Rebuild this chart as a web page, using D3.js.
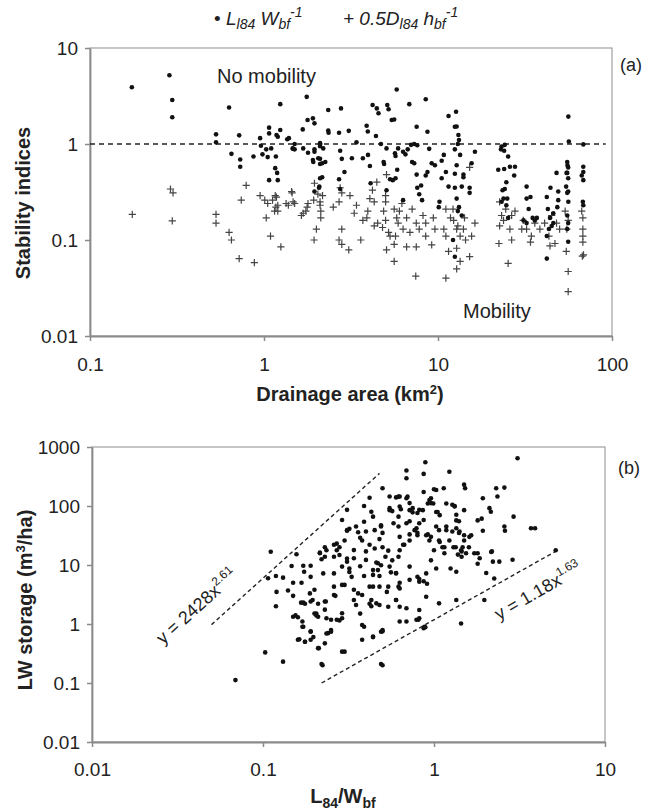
<!DOCTYPE html>
<html>
<head>
<meta charset="utf-8">
<script src="https://cdn.jsdelivr.net/npm/d3@7"></script>
<style>
  body { margin: 0; background: #fff; }
  svg text { font-family: "Liberation Sans", Arial, sans-serif; fill: #222; }
</style>
</head>
<body>
<svg id="chart" width="661" height="812"></svg>
<script>
"use strict";

// (a) L84/Wbf index vs drainage area (km2)
const lengthIndex = [
  [0.174,3.9],[0.286,5.2],[0.297,2.87],[0.297,1.9],[0.63,2.4],[0.53,1.26],[0.53,1.04],[0.72,1.23],
  [0.65,0.79],[0.73,0.69],[0.73,0.58],[0.87,0.74],[0.95,1.15],[0.96,0.96],[0.98,0.78],[1.05,0.73],
  [1.07,0.42],[1.07,1.48],[1.07,1.29],[1.24,2.6],[1.36,1.12],[1.47,0.89],[1.24,1.4],[1.2,1.19],
  [1.17,0.74],[1.16,0.56],[1.19,0.5],[1.2,0.42],[1.1,0.9],[1.03,0.88],[1.76,3.1],[1.78,1.78],
  [1.67,1.42],[1.68,0.9],[1.79,0.81],[1.91,1.85],[1.95,1.64],[1.95,0.83],[1.91,0.68],[2.05,0.71],
  [2.1,1.02],[2.1,0.95],[2.16,0.63],[2.1,0.44],[2.08,0.36],[1.95,0.32],[2.34,2.26],[2.34,1.38],
  [2.77,2.35],[5.79,3.7],[4.21,2.55],[4.45,2.35],[4.55,2.09],[5.11,2.55],[5.2,2.3],[5.42,1.78],
  [5.6,1.8],[6.84,2.6],[8.5,2.92],[7.54,1.51],[8.7,1.34],[2.35,1.31],[2.7,1.31],[3.07,1.37],
  [3.89,1.55],[3.95,1.35],[4.4,1.21],[1.39,1.15],[1.46,0.9],[1.5,0.88],[1.95,0.88],[1.92,0.65],
  [2.1,0.99],[2.1,0.7],[2.19,0.9],[2.25,0.65],[2.1,0.62],[2.16,0.45],[2.07,0.35],[2.74,0.85],
  [2.8,0.7],[2.9,0.51],[2.7,0.43],[2.74,0.34],[3.2,0.71],[3.4,1.04],[3.7,0.71],[3.96,0.77],
  [4.06,0.59],[4.1,0.39],[5.06,0.33],[4.87,0.65],[4.9,0.62],[5.06,0.9],[5.66,0.8],[5.9,0.9],
  [5.7,0.75],[5.83,0.54],[5.7,0.44],[5.5,0.42],[5.3,0.43],[6.3,0.83],[6.5,0.78],[7.0,0.98],
  [6.7,0.88],[7.1,0.65],[7.3,0.63],[7.54,0.48],[7.6,0.35],[8.0,0.37],[8.1,0.26],[7.8,0.3],
  [8.7,0.51],[8.5,0.47],[8.9,0.89],[9.2,0.63],[9.6,0.6],[6.3,0.26],[1.18,1.24],[1.5,1.0],
  [4.7,1.0],[7.3,1.0],[7.6,0.97],
  [11.5,1.96],[12.7,2.17],[12.5,1.51],[12.8,1.52],[13.1,1.24],[13.2,1.1],[13.0,1.0],[12.5,0.88],
  [13.4,0.77],[10.8,0.77],[10.5,0.67],[12.8,0.6],[11.1,0.51],[12.5,0.49],[14,0.48],[14,0.45],
  [10.5,0.44],[11.5,0.36],[12.5,0.35],[13.7,0.36],[15.2,0.35],[15.6,0.63],[16.3,0.83],[15.2,0.31],
  [12.8,0.27],[13.2,0.22],[13.7,0.18],[13.0,0.2],[12.2,0.1],[12.5,0.067],[10.2,0.25],[10.1,0.22],
  [23.2,0.94],[23,0.88],[24.2,0.98],[24,0.85],[25.3,0.74],[22.2,0.54],[24,0.55],[25.9,0.58],
  [27.7,0.58],[27.4,0.47],[24.7,0.4],[24.2,0.34],[23.5,0.33],[23.8,0.27],[25,0.27],[24.7,0.23],
  [25.3,0.17],[23.2,0.25],[32.3,0.36],[34.0,0.28],[32.3,0.27],[33.2,0.21],[35,0.17],[36,0.16],
  [37,0.17],[32.3,0.15],[31,0.16],[42.2,0.28],[44.3,0.35],[49.1,0.32],[48,0.5],[49.1,0.26],
  [48.5,0.22],[42.8,0.21],[44,0.17],[46,0.15],[43.4,0.13],[42.2,0.11],[42.2,0.064],[46,0.19],
  [45,0.14],[56.1,1.93],[56.5,1.06],[55.3,0.65],[55.5,0.6],[56,0.57],[55.3,0.5],[56,0.44],
  [54.5,0.36],[56,0.32],[54.8,0.5],[55.3,0.31],[56.1,0.25],[55.3,0.18],[56,0.15],[55.3,0.13],
  [56,0.096],[68.4,0.99],[68.4,0.58],[68.4,0.51],[67,0.47],[68.4,0.42],[68,0.25],[68.4,0.23]
];

// (a) 0.5 D84/hbf index vs drainage area (km2)
const depthIndex = [
  [0.175,0.185],[0.29,0.34],[0.3,0.31],[0.297,0.158],[0.53,0.185],[0.53,0.15],[0.63,0.12],[0.65,0.1],
  [0.72,0.064],[0.88,0.058],[0.79,0.37],[0.74,0.26],[0.95,0.29],[1.01,0.26],[1.03,0.17],[1.09,0.11],
  [1.25,0.085],[1.16,0.29],[1.17,0.22],[1.2,0.2],[1.15,0.2],[1.38,0.23],[1.45,0.31],[1.5,0.24],
  [1.64,0.18],[1.74,0.2],[1.79,0.24],[1.95,0.39],[1.93,0.26],[2.0,0.13],[1.94,0.1],[2.1,0.23],
  [2.12,0.2],[2.12,0.17],[2.17,0.29],[1.05,0.24],[1.12,0.26],[1.2,0.23],[1.44,0.32],[1.47,0.25],
  [1.34,0.24],[1.18,0.28],[1.68,0.19],[1.77,0.22],[2.04,0.3],[2.1,0.25],[2.74,0.35],[2.8,0.31],
  [2.7,0.25],[3.12,0.29],[3.4,0.23],[2.8,0.13],[2.7,0.1],[3.07,0.079],[2.8,0.09],[3.6,0.1],
  [4.06,0.27],[4.3,0.25],[3.95,0.2],[3.9,0.17],[4.3,0.14],[4.5,0.15],[4.87,0.2],[5.0,0.25],
  [5.0,0.29],[5.06,0.48],[5.0,0.16],[5.2,0.12],[5.3,0.11],[5.06,0.079],[5.6,0.06],[5.79,0.17],
  [5.9,0.15],[5.7,0.11],[5.6,0.09],[6.0,0.2],[6.6,0.17],[6.3,0.13],[6.6,0.085],[7.5,0.085],
  [7.1,0.21],[7.5,0.15],[7.8,0.13],[8.2,0.18],[8.5,0.15],[8.5,0.11],[9.2,0.089],[9.4,0.17],
  [9.6,0.13],[7.45,0.042],[5.6,0.21],[4.45,0.4],[4.2,0.33],[3.3,0.19],[2.5,0.22],[3.7,0.16],
  [4.8,0.135],[6.2,0.24],[6.9,0.12],
  [11.1,0.21],[11.8,0.17],[10.8,0.13],[11.1,0.11],[11.5,0.076],[11.1,0.04],[12.3,0.16],[12.8,0.13],
  [13.4,0.11],[14.2,0.17],[14,0.13],[14.4,0.1],[12.8,0.082],[13.4,0.06],[12.8,0.05],[15.2,0.067],
  [15.6,0.11],[16.3,0.15],[15.2,0.57],[12.2,0.21],[13.0,0.14],[22.6,0.25],[23.2,0.18],[23.8,0.16],
  [22.6,0.14],[22.4,0.092],[26.5,0.18],[25.9,0.13],[26.5,0.1],[25.3,0.057],[27.7,0.2],[30.9,0.16],
  [32.3,0.13],[34.4,0.11],[34,0.095],[30.3,0.13],[36,0.15],[38.5,0.13],[41,0.15],[43.4,0.11],
  [44,0.087],[47,0.092],[48,0.15],[50,0.13],[45,0.18],[53.8,0.2],[55,0.13],[56,0.16],
  [54.6,0.076],[56,0.047],[56,0.029],[68,0.17],[68,0.13],[68,0.11],[68,0.095],[68.6,0.07],
  [67.5,0.068],[24.5,0.21],[67,0.2]
];

// (b) LW storage (m3/ha) vs L84/Wbf
const lwStorage = [
  [0.069,0.112],[0.103,0.33],[0.131,0.23],[0.111,16.8],[0.157,15.2],[0.107,5.95],[0.119,6.5],[0.131,6.1],
  [0.147,9.6],[0.12,3.5],[0.14,3.7],[0.15,5.0],[0.15,3.0],[0.119,2.0],[0.15,1.33],[0.155,1.4],
  [0.16,0.54],[0.172,9.7],[0.174,7.7],[0.168,5.0],[0.19,9.7],[0.19,6.3],[0.188,3.3],[0.195,2.55],
  [0.172,2.3],[0.167,2.3],[0.16,1.3],[0.205,1.5],[0.21,1.33],[0.172,0.9],[0.19,0.74],[0.197,0.6],
  [0.163,0.55],[0.176,0.5],[0.212,0.39],[0.223,0.2],[0.215,16.2],[0.22,12.5],[0.23,20],[0.225,7.2],
  [0.233,2.4],[0.235,1.25],[0.24,0.7],
  [0.89,550],[0.69,400],[0.69,295],[0.87,350],[1.0,192],[0.87,173],[1.14,200],[0.5,200],
  [0.55,145],[0.6,140],[0.63,145],[0.69,135],[0.42,138],[0.39,100],[0.43,80],[0.44,66],
  [0.39,54],[0.55,85],[0.57,82],[0.62,66],[0.64,88],[0.72,85],[0.75,78],[0.8,76],
  [0.86,85],[0.87,58],[0.92,110],[0.96,135],[0.99,110],[1.03,79],[1.05,79],[1.08,70],
  [1.18,110],[1.18,45],[0.49,47],[0.5,35],[0.48,27.5],[0.45,39],[0.32,41],[0.31,38],
  [0.36,36],[0.37,29],[0.38,26],[0.42,22],[0.4,17],[0.34,13],[0.31,11.4],[0.27,17.8],
  [0.26,22],[0.28,20],[0.235,17.8],[0.215,15.8],[0.23,13.8],[0.26,13.8],[0.28,14.8],[0.32,8.7],
  [0.32,7.6],[0.33,6.3],[0.29,4.6],[0.3,4.6],[0.26,3.1],[0.265,3.0],[0.34,3.8],[0.36,3.3],
  [0.35,2.1],[0.37,1.5],[0.38,0.96],[0.39,0.9],[0.38,0.54],[0.29,1.25],[0.28,1.15],[0.25,1.18],
  [0.23,2.4],[0.23,1.75],[0.2,1.5],[0.205,1.4],[0.2,3.8],[0.21,2.2],[0.19,2.4],[0.176,2.2],
  [0.17,1.1],[0.17,0.9],[0.19,0.75],[0.19,0.54],[0.176,0.5],[0.21,0.39],[0.23,0.47],[0.235,0.69],
  [0.25,0.74],[0.22,0.21],[0.29,0.34],[0.44,0.6],[0.49,0.74],[0.49,0.21],[0.42,2.2],[0.43,2.0],
  [0.48,2.1],[0.54,1.96],[0.54,4.3],[0.44,6.8],[0.44,4.3],[0.47,8.2],[0.49,9.9],[0.46,11],
  [0.6,7.3],[0.62,4.3],[0.63,5],[0.6,2.55],[0.63,1.96],[0.69,1.85],[0.69,1.1],[0.63,1.1],
  [0.8,6.3],[0.82,5.8],[0.87,5.3],[0.9,2.9],[0.91,4.8],[1.03,8.7],[1.0,17.8],[0.96,12],
  [1.08,24.5],[1.12,20],[1.18,39],[1.07,39],[0.96,30],[0.92,33],[0.8,35],[0.77,39],
  [0.72,33],[0.72,55],[0.66,22],[0.63,17.8],[0.62,13.8],[0.57,12],[0.54,17.5],[0.5,20],
  [0.45,19],[0.52,13.8],[0.56,7.5],[0.48,6.5],[0.39,6.5],[0.37,9.5],[0.82,1.25],[0.79,1.18],
  [0.87,0.85],[0.89,0.88],[0.5,0.75],
  [3.08,645],[1.23,380],[1.5,230],[1.52,200],[2.31,200],[2.58,205],[2.35,145],[1.93,135],
  [2.11,92],[2.15,80],[2.92,66],[2.58,45],[2.6,38],[3.69,42],[3.9,42],[1.5,85],
  [1.32,100],[1.28,105],[1.35,57],[1.4,55],[1.35,42],[1.28,37],[1.4,35],[1.5,32],
  [1.5,26],[1.65,32],[1.93,38],[1.9,61],[1.8,57],[1.3,20],[1.47,20],[1.6,20],
  [1.45,17],[1.45,13.8],[1.38,15],[1.72,15.8],[1.8,15.8],[1.8,10.5],[2.18,17],[2.41,11.4],
  [2.88,12.3],[5.15,17.8],[1.25,8.7],[1.35,7.7],[2.25,5.9],[1.35,2.55],[1.97,2.55],[1.44,1.02],
  [1.03,187],[0.62,144],[0.7,144],[0.72,112],[0.55,92],[0.63,98],[0.75,92],[0.82,86],
  [0.94,126],[0.96,112],[1.32,98],[1.35,71],[1.41,37],[0.4,37],[0.49,45],[0.58,51],
  [0.62,45],[0.69,51],[0.79,42],[0.82,51],[0.63,30],[0.67,22],[0.72,26],[0.8,32],
  [0.9,32],[0.94,26],[1.03,45],[1.07,26],[1.15,20],[1.15,15.8],[1.23,26],[1.34,20],
  [1.44,17.8],[1.54,15.8],[1.61,30],[1.85,13],[2.16,16.6],[2.21,11.4],[2.02,7.3],[1.07,2.24],
  [0.88,0.9],[0.81,1.18],[0.82,1.73],[0.5,0.79],[0.44,0.61],[0.3,0.34],[0.5,0.2],[0.25,0.79],
  [0.29,1.52],[0.27,1.18],[0.34,2.55],[0.38,3.1],[0.43,2.55],[0.46,2.24],[0.42,4.3],[0.48,4.3],
  [0.53,3.5],[0.6,2.55],[0.63,4.0],[0.72,5.6],[0.82,5.2],[0.9,7.2],[0.72,9.4],[0.6,7.2],
  [0.55,9.4],[0.47,10.7],[0.44,8.2],[0.4,12.2],[0.34,17.9],[0.31,12.9],[0.29,9.4],[0.26,7.2],
  [0.26,4.3],[0.35,45],[0.31,39],[0.3,26],[0.27,23],[0.31,86],[0.29,58]
];

// fitted envelopes y = a x^b and the x range each is drawn over
const upperFit = [2428, 2.61];
const upperFitRange = [0.05, 0.48];
const lowerFit = [1.18, 1.63];
const lowerFitRange = [0.22, 5.2];

const stabilityThreshold = 1;
const areaTicks = [0.1, 1, 10, 100];
const indexTicks = [0.01, 0.1, 1, 10];
const ratioTicks = [0.01, 0.1, 1, 10];
const storageTicks = [0.01, 0.1, 1, 10, 100, 1000];

const svg = d3.select("#chart");
const axisColor = "#8a8a8a";

const xA = d3.scaleLog().domain([0.1, 100]).range([90, 612]);
const yA = d3.scaleLog().domain([0.01, 10]).range([336, 48]);
const xB = d3.scaleLog().domain([0.01, 10]).range([92, 605]);
const yB = d3.scaleLog().domain([0.01, 1000]).range([742, 447]);

function drawFrame(x, y, xTicks, yTicks, xPad) {
    const [x0, x1] = x.range();
    const [y0, y1] = y.range();
    const g = svg.append("g");

    g.append("rect")
        .attr("x", x0).attr("y", y1)
        .attr("width", x1 - x0).attr("height", y0 - y1)
        .attr("fill", "none")
        .attr("stroke", "#a0a0a0")
        .attr("stroke-width", 1.2);

    const bottom = g.append("g")
        .attr("transform", "translate(0," + y0 + ")")
        .call(d3.axisBottom(x).tickValues(xTicks).tickFormat(d => String(d))
            .tickSize(5).tickSizeOuter(0).tickPadding(xPad));
    const left = g.append("g")
        .attr("transform", "translate(" + x0 + ",0)")
        .call(d3.axisLeft(y).tickValues(yTicks).tickFormat(d => String(d))
            .tickSize(5).tickSizeOuter(0).tickPadding(7));

    [bottom, left].forEach(a => {
        a.select(".domain").attr("stroke", axisColor).attr("stroke-width", 1.8);
        a.selectAll(".tick line").attr("stroke", axisColor).attr("stroke-width", 1.5);
        a.selectAll(".tick text")
            .style("font-family", "'Liberation Sans', Arial, sans-serif")
            .style("font-size", "19px")
            .attr("fill", "#222");
    });
}

function crossPath(s) {
    return "M" + (-s) + ",0H" + s + "M0," + (-s) + "V" + s;
}

// ---------- panel (a) ----------
drawFrame(xA, yA, areaTicks, indexTicks, 17);

svg.append("line")
    .attr("x1", xA(0.1)).attr("x2", xA(92))
    .attr("y1", yA(stabilityThreshold)).attr("y2", yA(stabilityThreshold))
    .attr("stroke", "#222")
    .attr("stroke-width", 1.6)
    .attr("stroke-dasharray", "5,4");

svg.append("g").selectAll("path")
    .data(depthIndex)
    .enter().append("path")
    .attr("transform", d => "translate(" + xA(d[0]) + "," + yA(d[1]) + ")")
    .attr("d", crossPath(3.6))
    .attr("stroke", "#444")
    .attr("stroke-width", 1.2);

svg.append("g").selectAll("circle")
    .data(lengthIndex)
    .enter().append("circle")
    .attr("cx", d => xA(d[0]))
    .attr("cy", d => yA(d[1]))
    .attr("r", 2.3)
    .attr("fill", "#111");

svg.append("text")
    .attr("x", 217).attr("y", 83)
    .style("font-size", "20px")
    .text("No mobility");

svg.append("text")
    .attr("x", 463).attr("y", 318)
    .style("font-size", "20px")
    .text("Mobility");

svg.append("text")
    .attr("x", 620).attr("y", 71)
    .style("font-size", "18px")
    .text("(a)");

svg.append("text")
    .attr("x", 350).attr("y", 401)
    .attr("text-anchor", "middle")
    .style("font-size", "20px")
    .style("font-weight", "bold")
    .call(t => {
        t.append("tspan").text("Drainage area (km");
        t.append("tspan").attr("dy", -7).style("font-size", "13px").text("2");
        t.append("tspan").attr("dy", 7).text(")");
    });

svg.append("text")
    .attr("transform", "translate(30," + ((yA.range()[0] + yA.range()[1]) / 2 + 11) + ") rotate(-90)")
    .attr("text-anchor", "middle")
    .style("font-size", "20px")
    .style("font-weight", "bold")
    .text("Stability indices");

// legend
const legend = svg.append("text")
    .attr("x", 214).attr("y", 25)
    .style("font-size", "19px")
    .style("font-style", "italic");
legend.append("tspan").style("font-style", "normal").text("\u2022 ");
legend.append("tspan").text("L");
legend.append("tspan").attr("dy", 4).style("font-size", "14px").text("l84");
legend.append("tspan").attr("dy", -4).text(" W");
legend.append("tspan").attr("dy", 4).style("font-size", "14px").text("bf");
legend.append("tspan").attr("dy", -12).style("font-size", "14px").text("-1");
legend.append("tspan").attr("dy", 8).attr("x", 343).text("+ 0.5D");
legend.append("tspan").attr("dy", 4).style("font-size", "14px").text("l84");
legend.append("tspan").attr("dy", -4).text(" h");
legend.append("tspan").attr("dy", 4).style("font-size", "14px").text("bf");
legend.append("tspan").attr("dy", -12).style("font-size", "14px").text("-1");

// ---------- panel (b) ----------
drawFrame(xB, yB, ratioTicks, storageTicks, 16);

const fitLine = d3.line().x(d => xB(d[0])).y(d => yB(d[1]));
[[upperFit, upperFitRange], [lowerFit, lowerFitRange]].forEach(([fit, range]) => {
    svg.append("path")
        .datum(range.map(v => [v, fit[0] * Math.pow(v, fit[1])]))
        .attr("d", fitLine)
        .attr("fill", "none")
        .attr("stroke", "#222")
        .attr("stroke-width", 1.4)
        .attr("stroke-dasharray", "4,3");
});

svg.append("g").selectAll("circle")
    .data(lwStorage)
    .enter().append("circle")
    .attr("cx", d => xB(d[0]))
    .attr("cy", d => yB(d[1]))
    .attr("r", 2.3)
    .attr("fill", "#111");

function fitLabel(anchor, angle, coef, expo) {
    const t = svg.append("text")
        .attr("transform", "translate(" + xB(anchor[0]) + "," + yB(anchor[1]) + ") rotate(" + angle + ")")
        .style("font-size", "18px");
    t.append("tspan").text("y = " + coef + "x");
    t.append("tspan").attr("dy", -8).style("font-size", "12px").text(expo);
}
fitLabel([0.026, 0.44], -42, upperFit[0], upperFit[1]);
fitLabel([2.4, 1.15], -30, lowerFit[0], lowerFit[1]);

svg.append("text")
    .attr("x", 618).attr("y", 474)
    .style("font-size", "18px")
    .text("(b)");

svg.append("text")
    .attr("x", 343).attr("y", 803)
    .attr("text-anchor", "middle")
    .style("font-size", "20px")
    .style("font-weight", "bold")
    .call(t => {
        t.append("tspan").text("L");
        t.append("tspan").attr("dy", 5).style("font-size", "14px").text("84");
        t.append("tspan").attr("dy", -5).text("/W");
        t.append("tspan").attr("dy", 5).style("font-size", "14px").text("bf");
    });

svg.append("text")
    .attr("transform", "translate(32,600) rotate(-90)")
    .attr("text-anchor", "middle")
    .style("font-size", "20px")
    .style("font-weight", "bold")
    .call(t => {
        t.append("tspan").text("LW storage (m");
        t.append("tspan").attr("dy", -7).style("font-size", "13px").text("3");
        t.append("tspan").attr("dy", 7).text("/ha)");
    });
</script>
</body>
</html>
